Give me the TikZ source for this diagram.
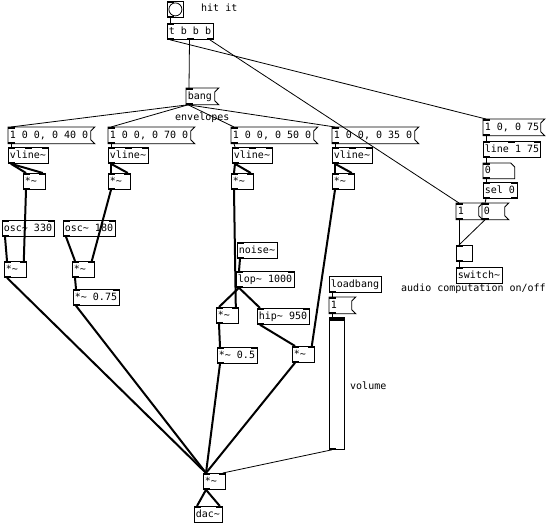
\documentclass[tikz,border=0pt]{standalone}
\usepackage{fontspec}
\newfontfamily\pdfam[WordSpace={1,0,0}]{DejaVu Sans Mono}
\newcommand\pdtxt{\pdfam\fontsize{10}{12}\selectfont}
\newcommand\pdsp{\spaceskip=0pt\xspaceskip=0pt\relax}
\usetikzlibrary{calc}
\tikzset{
  pdbox/.style={anchor=north west, inner xsep=1.5pt, inner ysep=0pt, minimum height=16pt,
    text height=8pt, text depth=2pt, align=left, font=\pdtxt, line width=0.8pt},
  boxline/.style={line width=0.8pt},
  ctl/.style={line width=0.8pt},
  sig/.style={line width=2pt},
  lbl/.style={anchor=west, inner sep=0pt, font=\pdtxt}
}
\newcommand\pdobj[5]{\pgfmathsetmacro\tw{#4-3}\node[pdbox,draw,minimum width=#4pt,text width=\tw pt] (#1) at (#2,#3) {\pdsp\mbox{#5}};}
\newcommand\pdmsg[5]{\pgfmathsetmacro\tw{#4-3}\node[pdbox,minimum width=#4pt,text width=\tw pt] (#1) at (#2,#3) {\pdsp\mbox{#5}};
  \draw[boxline] (#1.north west) -- ([xshift=4pt]#1.north east) -- ([yshift=-4pt]#1.north east) -- ([yshift=4pt]#1.south east) -- ([xshift=4pt]#1.south east) -- (#1.south west) -- cycle;}
\newcommand\pdin[2]{\fill ([xshift=#2pt]#1.north west) rectangle ++(7,2);}
\newcommand\pdinr[1]{\fill ([xshift=-7pt]#1.north east) rectangle ++(7,2);}
\newcommand\pdout[2]{\fill ([xshift=#2pt]#1.south west) rectangle ++(7,-2);}
\newcommand\pdoutr[1]{\fill ([xshift=-7pt]#1.south east) rectangle ++(7,-2);}
\begin{document}
\begin{tikzpicture}[x=1pt,y=-1pt]
\fill[white] (0,0) rectangle (547,526);
\useasboundingbox (0,0) rectangle (547,526);

% top
\node[draw,line width=0.8pt,anchor=north west,minimum size=16pt,inner sep=0pt] (bng) at (167,1) {};
\draw[line width=0.8pt] (bng.center) circle (6.5);
\pdin{bng}{0}\pdout{bng}{0}
\node[lbl] (hit) at (201,8) {hit it};
\pdobj{tbbb}{167}{23}{46}{t b b b}
\pdin{tbbb}{0}\pdout{tbbb}{0}\pdout{tbbb}{20}\pdoutr{tbbb}

\pdmsg{bang}{186}{88}{28}{bang}
\pdin{bang}{0}\pdout{bang}{0}
\node[lbl] (env) at (175,118) {envelopes};

% envelope messages
\pdmsg{msgA}{8}{127}{82}{1 0 0, 0 40 0}
\pdmsg{msgB}{108}{127}{82}{1 0 0, 0 70 0}
\pdmsg{msgC}{231}{127}{82}{1 0 0, 0 50 0}
\pdmsg{msgD}{332}{127}{82}{1 0 0, 0 35 0}
\foreach \n in {msgA,msgB,msgC,msgD}{\pdin{\n}{0}\pdout{\n}{0}}

\pdobj{vA}{8}{147}{40}{vline\char`~}
\pdobj{vB}{108}{147}{40}{vline\char`~}
\pdobj{vC}{232}{147}{40}{vline\char`~}
\pdobj{vD}{332}{147}{40}{vline\char`~}
\foreach \n in {vA,vB,vC,vD}{\pdin{\n}{0}\pdin{\n}{16.5}\pdinr{\n}\pdout{\n}{0}}

\pdobj{mA1}{23}{173}{22}{*\char`~}
\pdobj{mB1}{108}{173}{22}{*\char`~}
\pdobj{mC1}{231}{173}{22}{*\char`~}
\pdobj{mD1}{332}{173}{22}{*\char`~}

\pdobj{oscA}{2}{220}{52}{osc\char`~\ 330}
\pdobj{oscB}{63}{220}{52}{osc\char`~\ 180}
\pdobj{mA2}{4}{261}{22}{*\char`~}
\pdobj{mB2}{72}{261}{22}{*\char`~}
\pdobj{m075}{73}{289}{46}{*\char`~\ 0.75}

\pdobj{noise}{237}{242}{40}{noise\char`~}
\pdobj{lop}{236}{271}{58}{lop\char`~\ 1000}
\pdobj{mC2}{216}{307}{22}{*\char`~}
\pdobj{hip}{257}{308}{52}{hip\char`~\ 950}
\pdobj{m05}{217}{347}{40}{*\char`~\ 0.5}
\pdobj{mD2}{292}{346}{22}{*\char`~}
\pdobj{fin}{203}{473}{22}{*\char`~}
\pdobj{dac}{194}{506}{28}{dac\char`~}
\foreach \n in {mA1,mB1,mC1,mD1,oscA,oscB,mA2,mB2,m075,lop,mC2,hip,m05,mD2,fin,dac}{\pdin{\n}{0}\pdinr{\n}}
\foreach \n in {mA1,mB1,mC1,mD1,oscA,oscB,mA2,mB2,m075,noise,lop,mC2,hip,m05,mD2,fin}{\pdout{\n}{0}}
\pdin{noise}{0}

% volume
\pdobj{lb}{329}{276}{52}{loadbang}
\pdout{lb}{0}
\pdmsg{one}{329}{297}{22}{1}
\pdin{one}{0}\pdout{one}{0}
\node[draw,line width=0.8pt,anchor=north west,minimum width=15pt,minimum height=132pt,inner sep=0pt] (sld) at (329,317) {};
\draw[line width=3pt] ([yshift=-2.5pt]sld.north west) -- ([yshift=-2.5pt]sld.north east);
\pdin{sld}{0}\pdout{sld}{0}
\node[lbl] (vol) at (350,386) {volume};

% dsp switch
\pdmsg{msgR}{483}{119}{57}{1 0, 0 75}
\pdin{msgR}{0}\pdout{msgR}{0}
\pdobj{line}{483}{141}{57}{line 1 75}
\pdin{line}{0}\pdin{line}{25}\pdinr{line}\pdout{line}{0}
\node[pdbox,minimum width=31pt,minimum height=15pt,text width=28pt] (num) at (483,163) {0};
\draw[boxline] (num.north west) -- ([xshift=-4pt]num.north east) -- ([yshift=-4pt]num.north east) -- (num.south east) -- (num.south west) -- cycle;
\pdin{num}{0}\pdout{num}{0}
\pdobj{sel}{483}{182}{34}{sel 0}
\pdin{sel}{0}\pdinr{sel}\pdout{sel}{0}\pdoutr{sel}
\pdmsg{mone}{456}{203}{22}{1}
\pdmsg{mzero}{482}{203}{22}{0}
\pdin{mone}{0}\pdout{mone}{0}\pdin{mzero}{0}\pdout{mzero}{0}
\node[draw,line width=0.8pt,anchor=north west,minimum size=16pt,inner sep=0pt] (tgl) at (456,245) {};
\pdin{tgl}{0}\pdout{tgl}{0}
\pdobj{sw}{456}{267}{46}{switch\char`~}
\pdin{sw}{0}
\node[lbl] (aud) at (401,289) {audio computation on/off};

% control connections
\draw[ctl] ([xshift=3pt]bng.south west) -- ([xshift=3pt]tbbb.north west);
\draw[ctl] ([xshift=3pt]tbbb.south west) -- ([xshift=3pt]msgR.north west);
\draw[ctl] ([xshift=22.5pt]tbbb.south west) -- ([xshift=3pt]bang.north west);
\draw[ctl] ([xshift=-4pt]tbbb.south east) -- ([xshift=3pt]mone.north west);
\foreach \n in {msgA,msgB,msgC,msgD}{\draw[ctl] ([xshift=2pt]bang.south west) -- ([xshift=3pt]\n.north west);}
\draw[ctl] ([xshift=3pt]msgA.south west) -- ([xshift=3pt]vA.north west);
\draw[ctl] ([xshift=3pt]msgB.south west) -- ([xshift=3pt]vB.north west);
\draw[ctl] ([xshift=3pt]msgC.south west) -- ([xshift=3pt]vC.north west);
\draw[ctl] ([xshift=3pt]msgD.south west) -- ([xshift=3pt]vD.north west);
\draw[ctl] ([xshift=3pt]lb.south west) -- ([xshift=3pt]one.north west);
\draw[ctl] ([xshift=3pt]one.south west) -- ([xshift=3pt]sld.north west);
\draw[ctl] ([xshift=3pt]sld.south west) -- ([xshift=-3pt]fin.north east);
\draw[ctl] ([xshift=3pt]msgR.south west) -- ([xshift=3pt]line.north west);
\draw[ctl] ([xshift=3pt]line.south west) -- ([xshift=3pt]num.north west);
\draw[ctl] ([xshift=3pt]num.south west) -- ([xshift=3pt]sel.north west);
\draw[ctl] ([xshift=3pt]sel.south west) -- ([xshift=3pt]mzero.north west);
\draw[ctl] ([xshift=3pt]mone.south west) -- ([xshift=3pt]tgl.north west);
\draw[ctl] ([xshift=3pt]mzero.south west) -- ([xshift=3pt]tgl.north west);
\draw[ctl] ([xshift=3pt]tgl.south west) -- ([xshift=3pt]sw.north west);

% signal connections
\foreach \v/\m in {vA/mA1,vB/mB1,vC/mC1,vD/mD1}{
  \draw[sig] ([xshift=3pt]\v.south west) -- ([xshift=3pt]\m.north west);
  \draw[sig] ([xshift=3pt]\v.south west) -- ([xshift=-3pt]\m.north east);}
\draw[sig] ([xshift=3pt]mA1.south west) -- ([xshift=-3pt]mA2.north east);
\draw[sig] ([xshift=3pt]oscA.south west) -- ([xshift=3pt]mA2.north west);
\draw[sig] ([xshift=3pt]oscB.south west) -- ([xshift=3pt]mB2.north west);
\draw[sig] ([xshift=3pt]mB1.south west) -- ([xshift=-3pt]mB2.north east);
\draw[sig] ([xshift=3pt]mB2.south west) -- ([xshift=3pt]m075.north west);
\draw[sig] ([xshift=3pt]mC1.south west) -- ([xshift=-3pt]mC2.north east);
\draw[sig] ([xshift=3pt]noise.south west) -- ([xshift=3pt]lop.north west);
\draw[sig] ([xshift=3pt]lop.south west) -- ([xshift=3pt]mC2.north west);
\draw[sig] ([xshift=3pt]lop.south west) -- ([xshift=3pt]hip.north west);
\draw[sig] ([xshift=3pt]mC2.south west) -- ([xshift=3pt]m05.north west);
\draw[sig] ([xshift=3pt]hip.south west) -- ([xshift=3pt]mD2.north west);
\draw[sig] ([xshift=3pt]mD1.south west) -- ([xshift=-3pt]mD2.north east);
\foreach \n in {mA2,m075,m05,mD2}{\draw[sig] ([xshift=3pt]\n.south west) -- ([xshift=3pt]fin.north west);}
\draw[sig] ([xshift=3pt]fin.south west) -- ([xshift=3pt]dac.north west);
\draw[sig] ([xshift=3pt]fin.south west) -- ([xshift=-3pt]dac.north east);
\end{tikzpicture}
\end{document}
